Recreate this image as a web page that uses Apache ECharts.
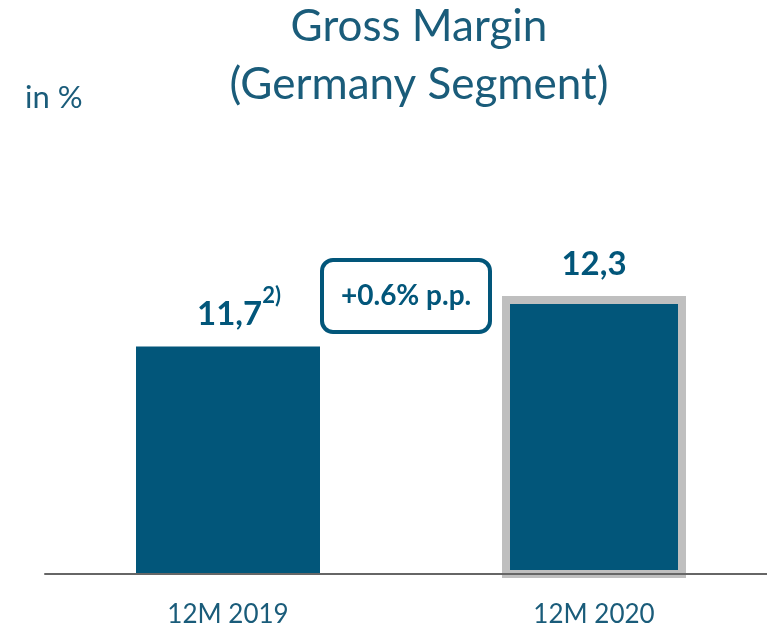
<!DOCTYPE html>
<html>
<head>
<meta charset="utf-8">
<script src="https://cdn.jsdelivr.net/npm/echarts@6/dist/echarts.min.js"></script>
<style>
  html, body { margin: 0; padding: 0; background: #fff; }
  #chart { width: 767px; height: 630px; }
</style>
</head>
<body>
<div id="chart"></div>
<script>
// chart data
const categories = ['12M 2019', '12M 2020'];
const margins = [11.7, 12.3];
const marginLabels = ['11,7', '12,3'];
const footnotes = ['2)', ''];
const deltaText = '+0.6% p.p.';

const blue = '#02567A';
const textBlue = '#1A5C7A';
const font = 'Lato';

let myChart = echarts.init(document.getElementById('chart'));

let seriesData = [];
for (let i = 0; i < margins.length; i++) {
  let item = { value: margins[i] };
  if (i === 1) {
    item.itemStyle = { borderColor: '#BFBFBF', borderWidth: 8 };
  }
  seriesData.push(item);
}

let option = {
  animation: false,
  title: [
    {
      text: 'Gross Margin\n(Germany Segment)',
      left: 414,
      top: -7,
      textAlign: 'center',
      textStyle: { color: textBlue, fontFamily: font, fontWeight: 'normal', fontSize: 44, lineHeight: 58 }
    },
    {
      text: 'in %',
      left: 20,
      top: 77,
      textStyle: { color: textBlue, fontFamily: font, fontWeight: 'normal', fontSize: 31 }
    },
    {
      text: deltaText,
      left: 322,
      top: 260,
      padding: [21, 19, 21, 19],
      borderColor: blue,
      borderWidth: 4,
      borderRadius: 11,
      backgroundColor: '#fff',
      textStyle: { color: blue, fontFamily: font, fontWeight: 'bold', fontSize: 28, lineHeight: 30 }
    }
  ],
  grid: { left: 45, right: -10, top: 237, bottom: 56, outerBoundsMode: 'none' },
  xAxis: {
    type: 'category',
    data: categories,
    z: 3,
    axisTick: { show: false },
    axisLine: { lineStyle: { color: '#666', width: 2 } },
    axisLabel: { color: textBlue, fontFamily: font, fontSize: 26, margin: 28 }
  },
  yAxis: {
    type: 'value',
    min: 9,
    max: 13,
    interval: 1,
    show: false
  },
  series: [
    {
      type: 'bar',
      data: seriesData,
      barWidth: 184,
      itemStyle: { color: blue },
      label: {
        show: true,
        position: 'top',
        distance: 2,
        formatter: function (p) {
          if (footnotes[p.dataIndex]) {
            return '{vs|' + marginLabels[p.dataIndex] + '}{sup|' + footnotes[p.dataIndex] + '}';
          }
          return '{v|' + marginLabels[p.dataIndex] + '}';
        },
        rich: {
          v: { color: blue, fontFamily: font, fontWeight: 'bold', fontSize: 33, lineHeight: 60 },
          vs: { color: blue, fontFamily: font, fontWeight: 'bold', fontSize: 33, lineHeight: 60, padding: [0, 0, 0, 22] },
          sup: { color: blue, fontFamily: font, fontWeight: 'bold', fontSize: 22, lineHeight: 20, verticalAlign: 'top' }
        }
      }
    }
  ]
};

myChart.setOption(option);
</script>
</body>
</html>
